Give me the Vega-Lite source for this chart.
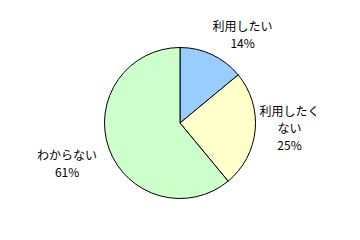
{
  "$schema": "https://vega.github.io/schema/vega-lite/v6.json",
  "width": 360,
  "height": 240,
  "autosize": {"type": "fit", "contains": "padding"},
  "padding": 0,
  "background": "white",
  "view": {"stroke": null},
  "data": {
    "values": [
      {"answer": "利用したい", "pct": 14, "lines": ["利用したい", "14%"]},
      {"answer": "利用したくない", "pct": 25, "lines": ["利用したく", "ない", "25%"]},
      {"answer": "わからない", "pct": 61, "lines": ["わからない", "61%"]}
    ]
  },
  "resolve": {"scale": {"theta": "independent"}},
  "encoding": {
    "theta": {"field": "pct", "type": "quantitative", "stack": true},
    "order": {"field": "pct", "sort": "ascending"}
  },
  "layer": [
    {
      "mark": {"type": "arc", "outerRadius": 75.5, "stroke": "#000000", "strokeWidth": 1},
      "encoding": {
        "color": {
          "field": "answer",
          "type": "nominal",
          "scale": {
            "domain": ["利用したい", "利用したくない", "わからない"],
            "range": ["#99CCFF", "#FFFFCC", "#CCFFCC"]
          },
          "legend": null
        }
      }
    },
    {
      "mark": {
        "type": "text", "font": "Noto Sans CJK JP", "fontSize": 12, "lineHeight": 17,
        "align": "center", "baseline": "middle", "color": "#000000",
        "radius": 100, "dx": 20, "dy": -6
      },
      "encoding": {
        "text": {"condition": {"test": "datum.answer === '利用したい'", "field": "lines"}, "value": ""}
      }
    },
    {
      "mark": {
        "type": "text", "font": "Noto Sans CJK JP", "fontSize": 12, "lineHeight": 17,
        "align": "center", "baseline": "middle", "color": "#000000",
        "radius": 109, "dx": 1, "dy": -21
      },
      "encoding": {
        "text": {"condition": {"test": "datum.answer === '利用したくない'", "field": "lines"}, "value": ""}
      }
    },
    {
      "mark": {
        "type": "text", "font": "Noto Sans CJK JP", "fontSize": 12, "lineHeight": 17,
        "align": "center", "baseline": "middle", "color": "#000000",
        "radius": 120, "dy": -8
      },
      "encoding": {
        "text": {"condition": {"test": "datum.answer === 'わからない'", "field": "lines"}, "value": ""}
      }
    }
  ]
}
